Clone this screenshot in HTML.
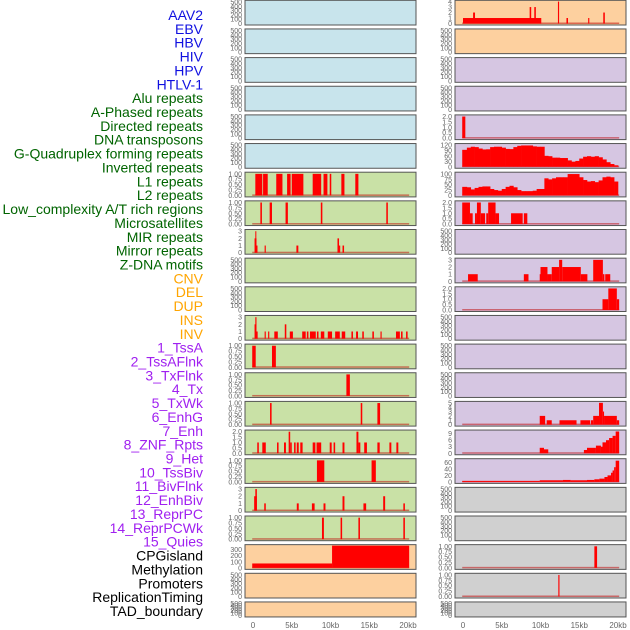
<!DOCTYPE html>
<html><head><meta charset="utf-8"><style>
body{margin:0;background:#fff;}
svg{display:block;font-family:"Liberation Sans",sans-serif;}
</style></head><body>
<svg id="chart" width="630" height="630"></svg>
<script>
const labels=["AAV2","EBV","HBV","HIV","HPV","HTLV-1","Alu repeats","A-Phased repeats","Directed repeats","DNA transposons","G-Quadruplex forming repeats","Inverted repeats","L1 repeats","L2 repeats","Low_complexity A/T rich regions","Microsatellites","MIR repeats","Mirror repeats","Z-DNA motifs","CNV","DEL","DUP","INS","INV","1_TssA","2_TssAFlnk","3_TxFlnk","4_Tx","5_TxWk","6_EnhG","7_Enh","8_ZNF_Rpts","9_Het","10_TssBiv","11_BivFlnk","12_EnhBiv","13_ReprPC","14_ReprPCWk","15_Quies","CPGisland","Methylation","Promoters","ReplicationTiming","TAD_boundary"];
const labelColors=["#1010e0","#1010e0","#1010e0","#1010e0","#1010e0","#1010e0","#006400","#006400","#006400","#006400","#006400","#006400","#006400","#006400","#006400","#006400","#006400","#006400","#006400","#ffa500","#ffa500","#ffa500","#ffa500","#ffa500","#a020f0","#a020f0","#a020f0","#a020f0","#a020f0","#a020f0","#a020f0","#a020f0","#a020f0","#a020f0","#a020f0","#a020f0","#a020f0","#a020f0","#a020f0","#000","#000","#000","#000","#000"];
const xTicks=[0,5,10,15,20];
const xTickLabels=["0","5kb","10kb","15kb","20kb"];
// background per row
const bgLeft=["b","b","b","b","b","b","g","g","g","g","g","g","g","g","g","g","g","g","g","o","o","o"];
const bgRight=["o","o","p","p","p","p","p","p","p","p","p","p","p","p","p","p","p","y","y","y","y","y"];
// tick sets per row
const ticksLeft=["E","E","E","E","E","E","U","U","T","E","E","T","U","U","U","H","U","T","U","C","E","E"];
const ticksRight=["F","E","E","E","H","P","Q","H","E","T","H","E","E","E","V","N","S","E","E","U","U","E"];
// segments [startKb, endKb, value]
const segL6=[[0.3,1.2,1],[1.3,1.9,1],[3.0,3.8,1],[4.4,4.85,1],[5.0,6.5,1],[7.7,8.8,1],[9.1,9.6,1],[9.9,10.1,1],[11.4,11.8,1],[13.2,13.6,1]];
const segL7=[[0.95,1.15,1],[2.15,2.45,1],[4.2,4.5,1],[8.75,8.95,1],[17.2,17.4,1]];
const segL8=[[0.2,0.45,2],[0.3,0.4,3],[0.45,0.55,1],[1.5,1.65,1],[5.6,5.85,1],[10.9,11.1,2],[11.1,11.25,1],[11.55,11.75,1]];
const segL11=[[0.2,0.35,2],[0.3,0.45,3],[0.45,0.6,1],[1.5,1.65,1],[1.95,2.1,1],[2.75,3.2,1],[4.1,4.3,2],[4.75,5.15,1],[6.35,6.8,1],[6.95,7.15,1],[7.35,8.1,1],[8.25,8.45,1],[8.75,9.2,1],[9.65,10.2,1],[10.6,11.2,1],[11.45,11.9,1],[12.7,12.9,1],[13.3,13.55,1],[14.1,14.3,1],[15.4,15.6,1],[16.45,16.6,1],[18.45,18.95,1],[19.1,19.3,1],[19.75,19.95,1]];
const segL12=[[-0.1,0.35,1],[2.45,2.95,1]];
const segL13=[[12.05,12.5,1]];
const segL14=[[2.2,2.4,1],[13.9,14.1,1],[16.05,16.4,1]];
const segL15=[[0.55,0.75,1],[1.2,1.65,1],[3.1,3.3,1],[4.0,4.25,1],[4.6,4.8,2],[4.8,5.0,1],[5.3,5.5,1],[5.65,5.9,1],[6.1,6.4,1],[7.7,8.05,1],[8.2,8.8,1],[9.9,10.15,1],[10.4,10.6,1],[11.55,11.8,1],[13.35,13.6,2],[13.6,13.85,1],[14.35,14.7,1],[16.05,16.35,1],[17.6,17.85,1],[18.5,18.75,1]];
const segL16=[[8.25,9.2,1],[15.3,15.85,1]];
const segL17=[[0.15,0.5,2],[0.3,0.5,3],[1.45,1.65,1],[5.65,5.9,1],[7.6,7.95,1],[9.1,9.35,1],[11.55,11.8,2],[14.25,14.6,1],[16.8,17.05,2],[19.4,19.6,1]];
const segL18=[[8.9,9.15,1],[11.3,11.5,1],[13.6,13.8,1],[19.4,19.6,1]];
const segL19=[[-0.1,10.2,72],[10.2,20.15,365]];
const segR0=[[0,10.1,1],[1.3,1.55,2],[8.6,8.8,3],[9.2,9.4,3],[12.25,12.4,4],[13.35,13.55,1],[16.15,16.3,1],[18.1,18.3,2]];
const segR4=[[-0.1,0.3,2]];
const profR5=[93,105,110,108,100,95,96,108,110,110,105,98,97,108,115,117,117,117,112,110,110,60,58,50,50,48,48,35,28,32,45,55,58,55,58,52,40,25,15,8];
const profR6=[40,38,28,35,40,42,42,30,25,22,30,40,45,38,25,20,20,20,22,30,30,80,75,80,85,85,85,100,100,100,85,72,65,67,62,70,85,88,85,65];
const segR7=[[-0.1,0.9,2],[0.9,1.25,1],[1.55,1.8,1],[1.8,2.3,2],[2.3,2.85,1],[3.0,3.25,1],[3.25,4.2,2],[4.2,4.65,1],[6.2,7.7,1],[7.85,8.3,1]];
const segR9=[[0.65,1.9,1],[7.85,8.45,1],[9.9,10.0,1],[10.0,10.9,2],[10.9,11.45,1],[11.45,12.4,2],[12.4,12.8,3],[12.8,15.2,2],[15.2,16.05,1],[16.8,18.05,3],[18.05,18.25,1],[18.35,19.0,1]];
const segR10=[[18.0,18.75,1],[18.75,19.85,2],[19.85,20.15,1]];
const segR14=[[9.9,10.6,2],[10.8,11.45,1],[12.45,14.65,1],[15.15,16.4,1],[16.5,16.8,1],[16.8,17.55,2],[17.55,18.05,5],[18.05,18.2,3],[18.2,19.85,2],[19.85,20.15,1]];
const segR15=[[9.9,10.45,2.5],[10.45,11.0,1.8],[15.6,16.0,1.5],[16.0,17.15,2.5],[17.15,17.8,3.5],[17.8,18.0,3],[18.0,18.45,5],[18.45,18.85,6],[18.85,19.3,7],[19.3,19.7,8],[19.7,20.15,10]];
const segR16=[[-0.1,9.9,3],[9.9,12.9,5],[12.9,13.9,6],[13.9,16.0,5],[16.0,16.95,6],[16.95,17.6,8],[17.6,18.25,10],[18.25,18.65,15],[18.65,19.1,20],[19.1,19.3,28],[19.3,19.5,35],[19.5,19.7,45],[19.7,20.15,65]];
const segR19=[[16.95,17.3,1]];
const segR20=[[12.3,12.45,1]];

const NS="http://www.w3.org/2000/svg";
const svg=document.getElementById('chart');
function mk(tag,attrs,parent){const e=document.createElementNS(NS,tag);for(const k in attrs)e.setAttribute(k,attrs[k]);(parent||svg).appendChild(e);return e;}
const BG={b:"#c8e4ec",g:"#c9e1a6",o:"#fdd09f",p:"#d6c6e2",y:"#d0d0d0"};
const TICKS={E:{v:[0,100,200,300,400,500],f:0,max:515},U:{v:[0,0.25,0.5,0.75,1],f:2,max:1.03},T:{v:[0,1,2,3],f:0,max:3.1},H:{v:[0,0.5,1,1.5,2],f:1,max:2.06},C:{v:[0,100,200,300],f:0,max:365},F:{v:[0,1,2,3,4],f:0,max:4.05},P:{v:[0,30,60,90,120],f:0,max:122},Q:{v:[0,25,50,75,100],f:0,max:104},V:{v:[0,1,2,3,4,5],f:0,max:5.1},N:{v:[0,3,6,9],f:0,max:10.2},S:{v:[0,20,40,60],f:0,max:68}};
const segsLeft={6:segL6,7:segL7,8:segL8,11:segL11,12:segL12,13:segL13,14:segL14,15:segL15,16:segL16,17:segL17,18:segL18,19:segL19};
const segsRight={0:segR0,4:segR4,7:segR7,9:segR9,10:segR10,14:segR14,15:segR15,16:segR16,19:segR19,20:segR20};
const profRight={5:profR5,6:profR6};
const PXKB=7.75;
const cols=[{px:245,x0:253,bg:bgLeft,tk:ticksLeft,segs:segsLeft,prof:{},side:'left'},{px:455,x0:463,bg:bgRight,tk:ticksRight,segs:segsRight,prof:profRight,side:'right'}];

// left labels
labels.forEach((t,i)=>{
  const e=mk('text',{x:203,y:15+i*13.86+5,'text-anchor':'end','font-size':14,fill:labelColors[i]});
  e.textContent=t;
  
  
});

cols.forEach(c=>{
  const xs=kb=>c.x0+kb*PXKB;
  for(let r=0;r<22;r++){
    const top=0.3+r*28.65, h=(r===21)?15:24.7, bot=top+h;
    const g=mk('g',{});
    
    
    mk('rect',{x:c.px,y:top,width:171,height:h,fill:BG[c.bg[r]],stroke:'#555','stroke-width':1},g);
    const T=TICKS[c.tk[r]];
    const y0=bot-1.5, sc=(h-2.5)/T.max;
    const ys=v=>y0-v*sc;
    T.v.forEach(v=>{
      const tl=mk('text',{x:c.px-3,y:ys(v)+2.5,'text-anchor':'end','font-size':7,fill:'#666'},g);
      tl.textContent=v.toFixed(T.f);
      
      
    });
    const segs=c.segs[r], prof=c.prof[r];
    if(segs||prof){
      const bl=mk('rect',{x:xs(-0.1),y:y0-1,width:xs(20.15)-xs(-0.1),height:1.5,fill:'rgba(190,0,0,0.5)'},g);
      
      
    }
    if(segs){segs.forEach(s=>{
      const b=mk('rect',{x:xs(s[0]),y:ys(s[2]),width:Math.max(1,xs(s[1])-xs(s[0])),height:y0-ys(s[2]),fill:'#ff0000'},g);
      
      
    });}
    if(prof){prof.forEach((v,i)=>{
      const a=i===0?-0.1:i*0.5, e2=i===prof.length-1?20:(i+1)*0.5;
      const b=mk('rect',{x:xs(a),y:ys(v),width:xs(e2)-xs(a)+0.3,height:y0-ys(v),fill:'#ff0000'},g);
      
      
    });}
  }
  xTicks.forEach((v,i)=>{
    const t=mk('text',{x:xs(v),y:628,'text-anchor':'middle','font-size':8,fill:'#666'});
    t.textContent=xTickLabels[i];
    
    
  });
});
</script>
</body></html>
